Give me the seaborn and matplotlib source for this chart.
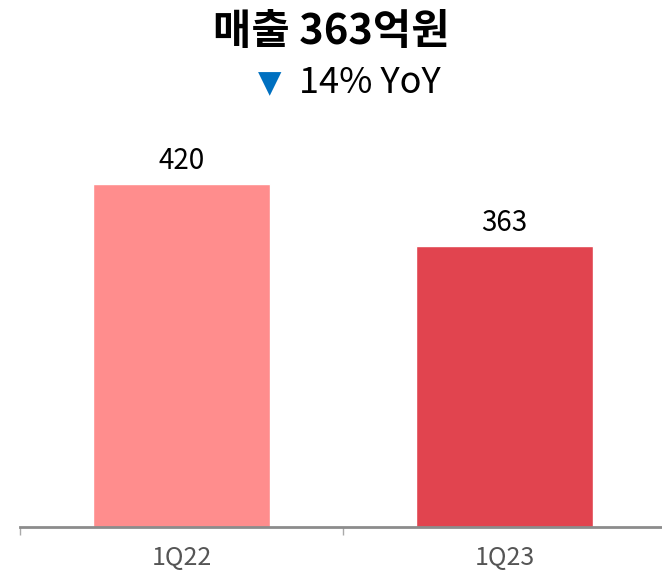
import pandas as pd
import matplotlib.pyplot as plt
import seaborn as sns

# Data
quarters = ["1Q22", "1Q23"]
revenue = [420, 363]
bar_colors = ["#FF8D8D", "#E1444F"]
title = "매출 363억원"
subtitle = "14% YoY"

df = pd.DataFrame({"quarter": quarters, "revenue": revenue})

sns.set_style("white")
plt.rcParams['font.family'] = ['Noto Sans CJK KR', 'DejaVu Sans']

fig = plt.figure(figsize=(6.62, 5.76), dpi=100)
ax = fig.add_axes([20 / 662, 49 / 576, 646 / 662, 407 / 576])

sns.barplot(data=df, x="quarter", y="revenue", hue="quarter",
            palette=bar_colors, width=0.55, saturation=1, legend=False, ax=ax)

ax.set_xlim(-0.5, 1.5)
ax.set_ylim(105, 479)

# value labels
for c in ax.containers:
    ax.bar_label(c, fmt="%d", padding=6, fontsize=20, color="black")

# axis styling
for s in ["top", "right", "left"]:
    ax.spines[s].set_visible(False)
ax.spines["bottom"].set_color("#8C8C8C")
ax.spines["bottom"].set_linewidth(2)
ax.set_yticks([])
ax.set_xlabel("")
ax.set_ylabel("")
ax.tick_params(axis="x", which="major", bottom=False, length=0, pad=13,
               labelsize=18, labelcolor="#555555")
ax.set_xticks([-0.5, 0.5, 1.5], minor=True)
ax.tick_params(axis="x", which="minor", bottom=True, direction="out",
               length=6, width=1, color="#AAAAAA")

# title
fig.text(0.5, 1 - 32 / 576, title, ha="center", va="center",
         fontsize=30, fontweight="bold", color="black")
fig.text(270 / 662, 1 - 84 / 576, "▼", ha="center", va="center",
         fontsize=22, color="#0070C0", family=["DejaVu Sans"])
fig.text(299 / 662, 1 - 83 / 576, subtitle, ha="left", va="center",
         fontsize=26, color="black")

fig.savefig("out.png", dpi=100)
